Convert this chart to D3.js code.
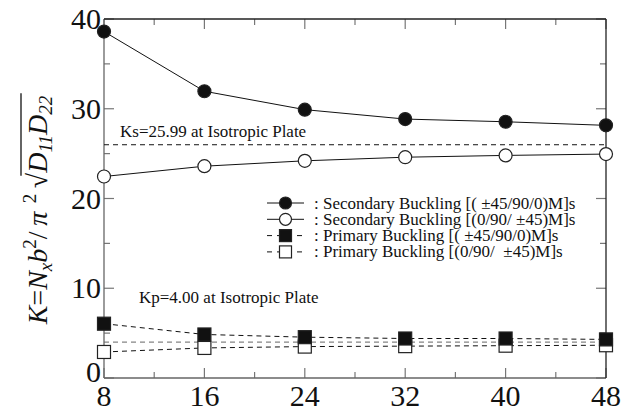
<!DOCTYPE html>
<html>
<head>
<meta charset="utf-8">
<script src="https://cdn.jsdelivr.net/npm/d3@7"></script>
<style>
  body { margin: 0; background: #fff; }
  text { font-family: 'Liberation Serif', 'DejaVu Serif', serif; }
</style>
</head>
<body>
<svg id="chart" width="635" height="412"></svg>
<script>
// data
var ratios = [8, 16, 24, 32, 40, 48];
var secA = [38.6, 31.95, 29.9, 28.85, 28.55, 28.15];   // Secondary [(±45/90/0)M]s
var secB = [22.45, 23.6, 24.2, 24.6, 24.8, 24.95];     // Secondary [(0/90/±45)M]s
var priA = [6.05, 4.85, 4.55, 4.4, 4.4, 4.3];          // Primary [(±45/90/0)M]s
var priB = [2.9, 3.35, 3.5, 3.55, 3.6, 3.65];          // Primary [(0/90/±45)M]s
var ksIso = 25.99;
var kpIso = 4.00;
var xTicks = [8, 16, 24, 32, 40, 48];
var yTicks = [0, 10, 20, 30, 40];
var legendLabels = [
    ": Secondary Buckling [( \u00B145/90/0)M]s",
    ": Secondary Buckling [(0/90/ \u00B145)M]s",
    ": Primary Buckling [( \u00B145/90/0)M]s",
    ": Primary Buckling [(0/90/ \u00A0\u00B145)M]s"
];

var margin = {top: 19, right: 29, bottom: 34, left: 104};
var width = 635, height = 412;

var svg = d3.select("#chart");

var x = d3.scaleLinear().domain([8, 48]).range([margin.left, width - margin.right]);
var y = d3.scaleLinear().domain([0, 40]).range([height - margin.bottom, margin.top]);

var x0 = x.range()[0], x1 = x.range()[1];
var y0 = y.range()[0], y1 = y.range()[1];

// ticks (inward, on all four sides)
var tickG = svg.append("g").attr("stroke", "#777").attr("stroke-width", 1.2);
d3.range(8, 48.1, 4).forEach(function(v) {
    var len = (v % 8 === 0) ? 10 : 6;
    tickG.append("line").attr("x1", x(v)).attr("x2", x(v)).attr("y1", y0).attr("y2", y0 - len);
    tickG.append("line").attr("x1", x(v)).attr("x2", x(v)).attr("y1", y1).attr("y2", y1 + len);
});
d3.range(0, 40.1, 5).forEach(function(v) {
    var len = (v % 10 === 0) ? 10 : 6;
    tickG.append("line").attr("x1", x0).attr("x2", x0 + len).attr("y1", y(v)).attr("y2", y(v));
    tickG.append("line").attr("x1", x1).attr("x2", x1 - len).attr("y1", y(v)).attr("y2", y(v));
});

// frame
svg.append("line").attr("x1", x0).attr("x2", x0).attr("y1", y0).attr("y2", y1).attr("stroke", "#666").attr("stroke-width", 1.3);
svg.append("line").attr("x1", x0).attr("x2", x1).attr("y1", y0).attr("y2", y0).attr("stroke", "#666").attr("stroke-width", 1.3);
svg.append("line").attr("x1", x0).attr("x2", x1).attr("y1", y1).attr("y2", y1).attr("stroke", "#222").attr("stroke-width", 1.3);
svg.append("line").attr("x1", x1).attr("x2", x1).attr("y1", y0).attr("y2", y1).attr("stroke", "#222").attr("stroke-width", 1.3);

// tick labels
svg.append("g").selectAll("text").data(xTicks).enter().append("text")
    .attr("x", d => x(d)).attr("y", y0 + 28)
    .attr("text-anchor", "middle").attr("font-size", 30).attr("fill", "#111")
    .text(d => d);
svg.append("g").selectAll("text").data(yTicks).enter().append("text")
    .attr("x", x0 - 3).attr("y", d => y(d) + 10 - (d === 0 ? 6 : 0))
    .attr("text-anchor", "end").attr("font-size", 30).attr("fill", "#111")
    .text(d => d);

// isotropic reference lines
svg.append("line").attr("x1", x0).attr("x2", x1).attr("y1", y(ksIso)).attr("y2", y(ksIso))
    .attr("stroke", "#111").attr("stroke-width", 1).attr("stroke-dasharray", "5,4");
svg.append("line").attr("x1", x0).attr("x2", x1).attr("y1", y(kpIso)).attr("y2", y(kpIso))
    .attr("stroke", "#666").attr("stroke-width", 1).attr("stroke-dasharray", "5,4");
svg.append("text").attr("x", 120).attr("y", y(ksIso) - 8).attr("font-size", 17).attr("fill", "#111")
    .text("Ks=25.99 at Isotropic Plate");
svg.append("text").attr("x", 139).attr("y", 303).attr("font-size", 17).attr("fill", "#111")
    .text("Kp=4.00 at Isotropic Plate");

// series
var line = d3.line().x((d, i) => x(ratios[i])).y(d => y(d));

function drawSeries(vals, dashed, shape, fill) {
    svg.append("path").attr("d", line(vals)).attr("fill", "none")
        .attr("stroke", "#111").attr("stroke-width", 1)
        .attr("stroke-dasharray", dashed ? "5,4" : null);
    var g = svg.append("g");
    vals.forEach(function(v, i) {
        if (shape === "circle") {
            g.append("circle").attr("cx", x(ratios[i])).attr("cy", y(v)).attr("r", 6.5)
                .attr("fill", fill).attr("stroke", "#222").attr("stroke-width", 1.2);
        } else {
            g.append("rect").attr("x", x(ratios[i]) - 6.5).attr("y", y(v) - 6.5)
                .attr("width", 13).attr("height", 13)
                .attr("fill", fill).attr("stroke", "#222").attr("stroke-width", 1.2);
        }
    });
}

drawSeries(secB, false, "circle", "#fff");
drawSeries(secA, false, "circle", "#111");
drawSeries(priB, true, "rect", "#fff");
drawSeries(priA, true, "rect", "#111");

// legend
var legend = svg.append("g");
var legendStyles = [
    {shape: "circle", fill: "#111", dashed: false},
    {shape: "circle", fill: "#fff", dashed: false},
    {shape: "rect", fill: "#111", dashed: true},
    {shape: "rect", fill: "#fff", dashed: true}
];
legendLabels.forEach(function(lbl, i) {
    var ly = 203 + i * 16.3;
    var st = legendStyles[i];
    legend.append("line").attr("x1", 267).attr("x2", 304).attr("y1", ly).attr("y2", ly)
        .attr("stroke", "#111").attr("stroke-width", 1)
        .attr("stroke-dasharray", st.dashed ? "5,5" : null);
    if (st.shape === "circle") {
        legend.append("circle").attr("cx", 285.5).attr("cy", ly).attr("r", 6)
            .attr("fill", st.fill).attr("stroke", "#222").attr("stroke-width", 1.2);
    } else {
        legend.append("rect").attr("x", 279.5).attr("y", ly - 6).attr("width", 12).attr("height", 12)
            .attr("fill", st.fill).attr("stroke", "#222").attr("stroke-width", 1.2);
    }
    legend.append("text").attr("x", 314).attr("y", ly + 5.5).attr("font-size", 17).attr("fill", "#111")
        .text(lbl);
});

// y axis title: K = Nx b^2 / pi^2 sqrt(D11 D22)
var titleG = svg.append("g").attr("transform", "translate(47,210) rotate(-90)");
var title = titleG.append("text").attr("text-anchor", "middle").attr("font-size", 28).attr("fill", "#111");
title.append("tspan").attr("font-style", "italic").text("K");
title.append("tspan").text("=");
title.append("tspan").attr("font-style", "italic").text("N");
title.append("tspan").attr("font-style", "italic").attr("font-size", 19).attr("dy", 5).text("x");
title.append("tspan").attr("font-style", "italic").attr("dy", -5).text("b");
title.append("tspan").attr("font-size", 19).attr("dy", -11).text("2");
title.append("tspan").attr("dy", 11).text("/\u2009");
title.append("tspan").attr("font-style", "italic").text("\u03C0");
title.append("tspan").attr("font-size", 19).attr("dy", -11).text("\u2009 2");
title.append("tspan").attr("dy", 11).text("\u2009\u221A");
title.append("tspan").attr("font-style", "italic").text("D");
title.append("tspan").attr("font-style", "italic").attr("font-size", 19).attr("dy", 5).text("11");
title.append("tspan").attr("font-style", "italic").attr("dy", -5).text("D");
title.append("tspan").attr("font-style", "italic").attr("font-size", 19).attr("dy", 5).text("22");

// radical bar over D11 D22
var node = title.node();
var full = node.textContent;
var iD = full.indexOf("\u221A");
var bb = node.getBBox();
var rootStart = node.getStartPositionOfChar(iD);
var rootLen = node.getSubStringLength(iD, 1);
titleG.append("line")
    .attr("x1", rootStart.x + rootLen * 0.8).attr("x2", bb.x + bb.width + 2)
    .attr("y1", -26).attr("y2", -26)
    .attr("stroke", "#111").attr("stroke-width", 1.3);
</script>
</body>
</html>
